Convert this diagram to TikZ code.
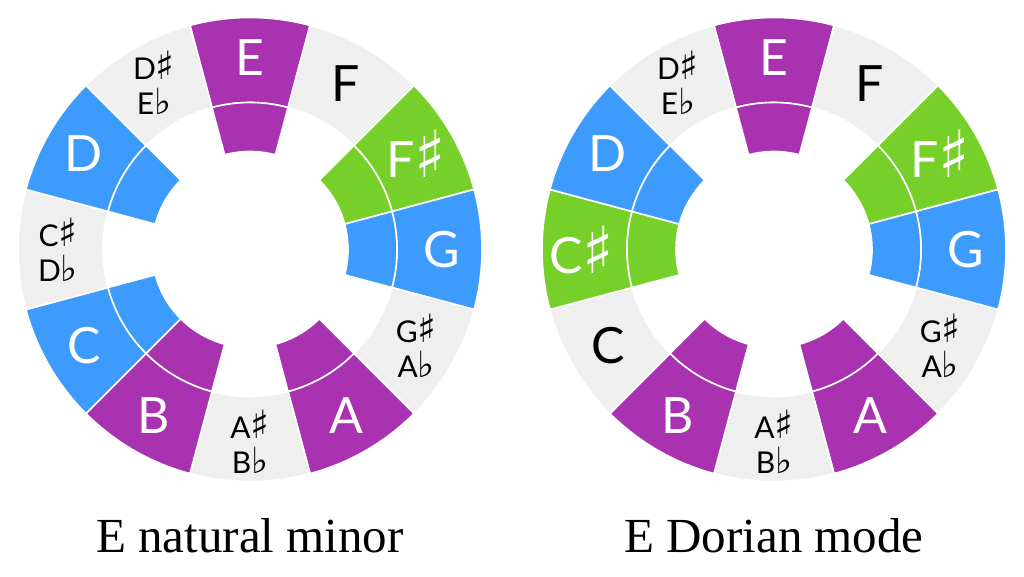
\documentclass[tikz,border=0pt]{standalone}
\usepackage{fontspec}
\setmainfont{Liberation Serif}
\newfontfamily\notefont{Lato}
\newfontfamily\symfont{DejaVu Sans}
\usetikzlibrary{positioning}

\definecolor{scalepurple}{HTML}{A832B0}
\definecolor{scaleblue}{HTML}{3D9BFE}
\definecolor{scalegreen}{HTML}{77CF29}
\definecolor{ringgrey}{HTML}{EFEFEF}

\newcommand\mysharp{\scalebox{1.3}{\symfont ♯}}
\newcommand\myflat{\scalebox{1.2}{\symfont ♭}}

% one piece of the ring: angle, inner radius, outer radius, colour
\newcommand\ringpiece[4]{%
  \filldraw[sector=#4] (#1-15:#3) arc[start angle=#1-15, end angle=#1+15, radius=#3]
    -- (#1+15:#2) arc[start angle=#1+15, end angle=#1-15, radius=#2] -- cycle;}

\tikzset{
  sector/.style={fill=#1, draw=white, line width=1.6pt, line join=round},
  note/.style={font=\notefont\fontsize{50}{50}\selectfont, text=white, inner sep=0pt},
  darknote/.style={note, text=black},
  accnote/.style={font=\notefont\fontsize{30}{35}\selectfont, text=black, align=center, inner sep=0pt},
  title/.style={font=\fontsize{49}{52}\selectfont, anchor=base}
}

\begin{document}
\begin{tikzpicture}
  \useasboundingbox (0,0) rectangle (1024pt,577pt);

  % E natural minor
  \begin{scope}[shift={(250pt,327.5pt)}]
    \foreach \ang/\col/\sty/\nm/\txt/\inner in {
        90/scalepurple/note/E/E/1,
        60/ringgrey/darknote/F/F/0,
        30/scalegreen/note/Fs/F\mysharp/1,
        0/scaleblue/note/G/G/1,
        -30/ringgrey/accnote/Gs/{G\mysharp\\A\myflat}/0,
        -60/scalepurple/note/A/A/1,
        -90/ringgrey/accnote/As/{A\mysharp\\B\myflat}/0,
        -120/scalepurple/note/B/B/1,
        -150/scaleblue/note/C/C/1,
        180/ringgrey/accnote/Cs/{C\mysharp\\D\myflat}/0,
        150/scaleblue/note/D/D/1,
        120/ringgrey/accnote/Ds/{D\mysharp\\E\myflat}/0} {
      \ringpiece{\ang}{147pt}{232pt}{\col}
      \ifnum\inner=1 \ringpiece{\ang}{98pt}{147pt}{\col}\fi
      \node[\sty] (minor-\nm) at (\ang:192pt) {\txt};
    }
  \end{scope}

  % E Dorian mode
  \begin{scope}[shift={(774pt,327.5pt)}]
    \foreach \ang/\col/\sty/\nm/\txt/\inner in {
        90/scalepurple/note/E/E/1,
        60/ringgrey/darknote/F/F/0,
        30/scalegreen/note/Fs/F\mysharp/1,
        0/scaleblue/note/G/G/1,
        -30/ringgrey/accnote/Gs/{G\mysharp\\A\myflat}/0,
        -60/scalepurple/note/A/A/1,
        -90/ringgrey/accnote/As/{A\mysharp\\B\myflat}/0,
        -120/scalepurple/note/B/B/1,
        -150/ringgrey/darknote/C/C/0,
        180/scalegreen/note/Cs/C\mysharp/1,
        150/scaleblue/note/D/D/1,
        120/ringgrey/accnote/Ds/{D\mysharp\\E\myflat}/0} {
      \ringpiece{\ang}{147pt}{232pt}{\col}
      \ifnum\inner=1 \ringpiece{\ang}{98pt}{147pt}{\col}\fi
      \node[\sty] (dorian-\nm) at (\ang:192pt) {\txt};
    }
  \end{scope}

  \node[title] (minor-title) at (250pt,24pt) {E natural minor};
  \node[title] (dorian-title) at (774pt,24pt) {E Dorian mode};
\end{tikzpicture}
\end{document}
